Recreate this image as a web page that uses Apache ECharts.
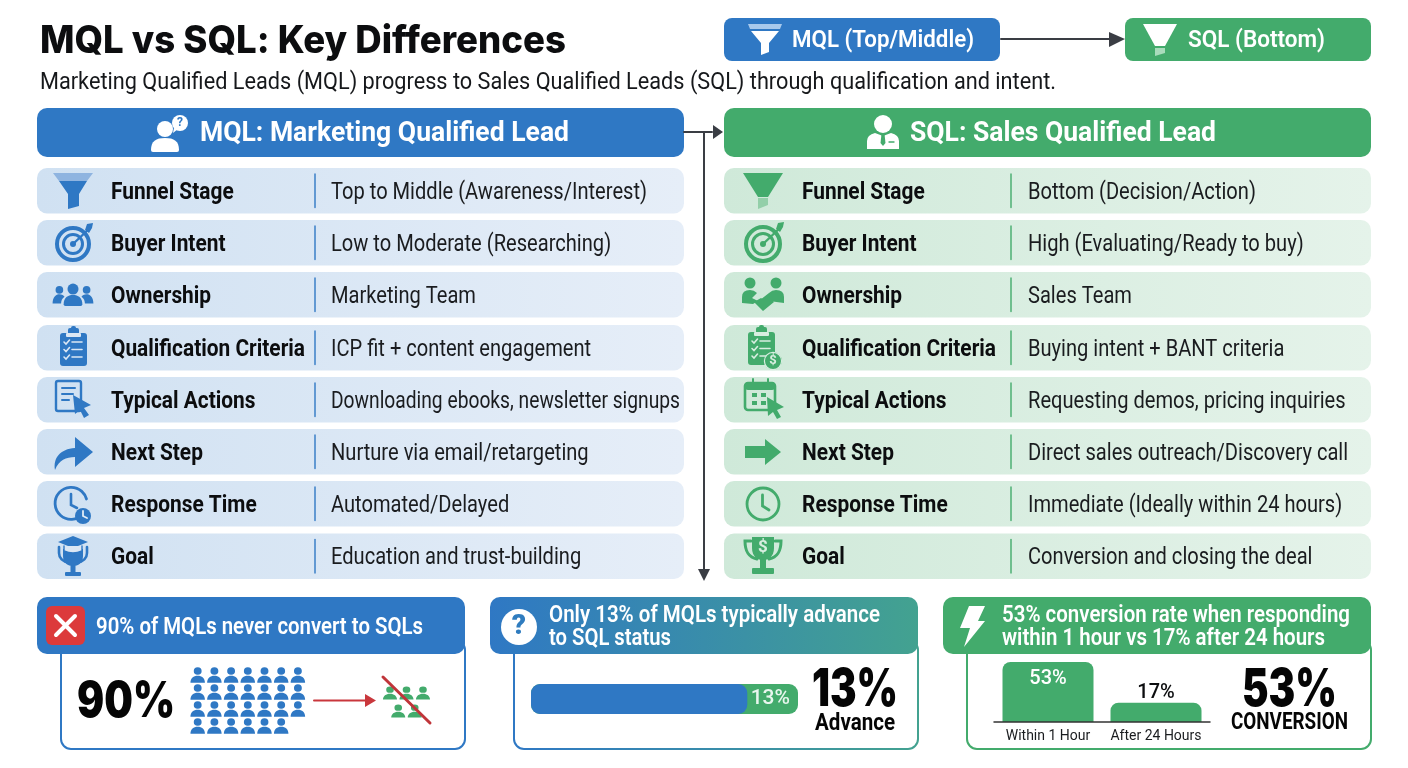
<!DOCTYPE html>
<html>
<head>
<meta charset="utf-8">
<style>html,body{margin:0;padding:0;background:#fff}#chartmain{width:1408px;height:768px}</style>
<script src="https://cdn.jsdelivr.net/npm/echarts@6/dist/echarts.min.js"></script>
</head>
<body>
<div id="chartmain"></div>
<script>
// data
var rowLabels = ['Funnel Stage', 'Buyer Intent', 'Ownership', 'Qualification Criteria', 'Typical Actions', 'Next Step', 'Response Time', 'Goal'];
var mqlValues = ['Top to Middle (Awareness/Interest)', 'Low to Moderate (Researching)', 'Marketing Team', 'ICP fit + content engagement', 'Downloading ebooks, newsletter signups', 'Nurture via email/retargeting', 'Automated/Delayed', 'Education and trust-building'];
var sqlValues = ['Bottom (Decision/Action)', 'High (Evaluating/Ready to buy)', 'Sales Team', 'Buying intent + BANT criteria', 'Requesting demos, pricing inquiries', 'Direct sales outreach/Discovery call', 'Immediate (Ideally within 24 hours)', 'Conversion and closing the deal'];
var peopleLostRows = [7, 7, 7, 6];
var peopleKeptRows = [3, 2];
var barBlueShare = [81];
var barTrack = [100];
var responseCats = ['Within 1 Hour', 'After 24 Hours'];
var responseVals = [53, 17];

var BLUE = '#2f78c4', GREEN = '#43ab6c', DARK = '#3a3d44', INK = '#0c0d0f';
var ROBOTO = 'Roboto', HEAVY = 'Inter';

var mctx = document.createElement('canvas').getContext('2d');
function measure(str, size, weight, fam) {
	mctx.font = weight + ' ' + size + 'px ' + fam;
	return mctx.measureText(str).width;
}
// text element, squeezed to a target width when w is given
function tx(x, y, str, size, weight, fill, w, fam, align) {
	fam = fam || ROBOTO;
	var sc = w ? w / measure(str, size, weight, fam) : 1;
	return {
		type: 'text', x: x, y: y + 2, scaleX: sc, z: 20,
		style: { text: str, fontSize: size, fontWeight: weight, fontFamily: fam, fill: fill,
			textAlign: align || 'left', align: align || 'left', textVerticalAlign: 'middle', verticalAlign: 'middle' }
	};
}
function rr(x, y, w, h, rad, fill, stroke, lw) {
	return { type: 'rect', z: 5, shape: { x: x, y: y, width: w, height: h, r: rad }, style: { fill: fill || 'transparent', stroke: stroke || null, lineWidth: lw || 0 } };
}
function dot(x, y, r, fill) { return { type: 'circle', z: 10, shape: { cx: x, cy: y, r: r }, style: { fill: fill } }; }
function ring(x, y, r, stroke, lw, fill) { return { type: 'circle', z: 10, shape: { cx: x, cy: y, r: r }, style: { fill: fill || 'transparent', stroke: stroke, lineWidth: lw } }; }
function poly(pts, fill) { return { type: 'polygon', z: 10, shape: { points: pts }, style: { fill: fill } }; }
function seg(x1, y1, x2, y2, stroke, lw) { return { type: 'line', z: 10, shape: { x1: x1, y1: y1, x2: x2, y2: y2 }, style: { stroke: stroke, lineWidth: lw, lineCap: 'round' } }; }
// the graphic component has no plain path type, so each svg path is registered as its own shape
var pathCount = 0;
function pth(d, fill, stroke, lw) {
	var name = 'iconPath' + (pathCount++);
	echarts.graphic.registerShape(name, echarts.graphic.extendPath(d, {}));
	return { type: name, z: 10, style: { fill: fill || 'transparent', stroke: stroke || null, lineWidth: lw || 0, lineCap: 'round' } };
}
function grp(x, y, kids, sc) { return { type: 'group', x: x, y: y, scaleX: sc || 1, scaleY: sc || 1, children: kids }; }
function grad(a, b) { return new echarts.graphic.LinearGradient(0, 0, 1, 0, [{ offset: 0, color: a }, { offset: 1, color: b }]); }
function glyph(x, y, str, size, fill) {
	return { type: 'text', x: x, y: y, z: 11, style: { text: str, fontSize: size, fontWeight: 700, fontFamily: ROBOTO, fill: fill, textAlign: 'center', align: 'center', textVerticalAlign: 'middle', verticalAlign: 'middle' } };
}

// icons, drawn around a local origin
function target(c, r) {
	return [ring(0, 1, r - 2, c, 4), ring(0, 1, r - 8.5, c, 3), dot(0, 1, 3, c),
		seg(0, 1, r - 1, -r + 3, c, 2.4), poly([[r - 6, -r + 5], [r - 4, -r - 1], [r + 2, -r - 2], [r + 1, -r + 3], [r - 2, -r + 8]], c)];
}
function clock(c, mini) {
	var k = [ring(0, 0, 16, c, 2.8), pth('M-0.5 -9 L-0.5 2 L6 6', null, c, 2.8)];
	if (mini) k = [pth('M11 11 A16 16 0 1 1 14.5 -4', null, c, 2.8), pth('M-1 -9 L-1 2 L5 5', null, c, 2.6), dot(11, 13, 8, c), pth('M11 8 L11 13 L15 15', null, '#e0ebf6', 1.8)];
	return k;
}
function clipboard(c, paper, money) {
	var k = [rr(-13, -15, 27, 33, 3, c), rr(-5, -20, 11, 7, 2, c), rr(-2, -22, 5, 4, 2, c), rr(-7, -15, 15, 4, 1, paper)];
	for (var i = 0; i < 3; i++) {
		k.push(pth('M-9 ' + (-6 + i * 7.5) + ' l2 2 l3.5 -4', null, paper, 1.6));
		k.push(seg(-1, -6 + i * 7.5, 9, -6 + i * 7.5, paper, 1.6));
	}
	if (money) k.push(dot(12, 14, 9, c), ring(12, 14, 8.6, paper, 1.2), glyph(12, 14, '$', 13, paper));
	return k;
}
var personD = 'M7 0a3.8 3.8 0 1 0 0 7.6a3.8 3.8 0 1 0 0-7.6z M0 15.5c0-4.4 3-7 7-7s7 2.6 7 7z';

var g = [];
// title block, the colon goes in its own rich token so Inter keeps it on the baseline
var titleEl = tx(40, 40, 'MQL vs SQL: Key Differences', 38, 800, INK, 526, HEAVY);
titleEl.style.text = '{a|MQL vs SQL}{a|:}{a| Key Differences}';
titleEl.style.rich = { a: { fontSize: 38, fontWeight: 800, fontFamily: HEAVY, fill: INK, color: INK } };
g.push(titleEl);
g.push(tx(40, 81, 'Marketing Qualified Leads (MQL) progress to Sales Qualified Leads (SQL) through qualification and intent.', 23, 400, '#16181b', 1016));

// funnel pills
g.push(rr(724, 18, 276, 43, 8, BLUE), rr(1125, 18, 246, 43, 8, GREEN));
g.push(grp(765, 40, [poly([[-17, -16], [17, -16], [15, -11], [-15, -11]], '#a8c9ec'), poly([[-14, -9], [14, -9], [4, 3], [4, 12], [-4, 15], [-4, 3]], '#fff')]));
g.push(grp(1160, 40, [poly([[-17, -16], [17, -16], [5, 6], [-5, 6]], '#fff'), poly([[-5, 8], [5, 8], [5, 13], [-5, 16]], '#a9dcbc')]));
g.push(tx(792, 39, 'MQL (Top/Middle)', 24, 600, '#fff', 182));
g.push(tx(1188, 39, 'SQL (Bottom)', 24, 600, '#fff', 137));
g.push(seg(1001, 39, 1112, 39, DARK, 2), poly([[1109, 32], [1125, 39], [1109, 47]], DARK));

// section headers
g.push(rr(37, 108, 647, 49, 10, BLUE), rr(724, 108, 647, 49, 10, GREEN));
g.push(tx(200, 132, 'MQL: Marketing Qualified Lead', 28, 700, '#fff', 369));
g.push(tx(910, 132, 'SQL: Sales Qualified Lead', 28, 700, '#fff', 306));
g.push(grp(165, 134, [dot(0, -5, 8, '#fff'), pth('M-14 16 c0 -9 5 -12 14 -12 s14 3 14 12 q0 2 -2 2 h-24 q-2 0 -2 -2z', '#fff'),
	dot(15, -11, 8, '#fff'), poly([[9, -6], [13, -5], [8, -1]], '#fff'), glyph(15, -11, '?', 12, BLUE)]));
g.push(grp(883, 132, [dot(0, -8, 9, '#fff'), pth('M-16 17 v-8 q0 -6 8 -8 l8 3 l8 -3 q8 2 8 8 v8z', '#fff'), poly([[-1.5, 2], [1.5, 2], [2.5, 11], [0, 14], [-2.5, 11]], GREEN), seg(6, 10, 11, 10, GREEN, 1.4)]));

// flow arrows between the columns
g.push(seg(684, 132, 712, 132, DARK, 2), poly([[713, 125], [723, 132], [713, 139]], DARK));
g.push(seg(704, 132, 704, 570, DARK, 2), poly([[698, 569], [710, 569], [704, 581]], DARK));

// rows
var rowTops = [168, 220, 272, 325, 377, 429, 481, 533.5];
var rowH = 45.5;
var labelScale = 194 / measure('Qualification Criteria', 23.5, 700, ROBOTO);
var valueScale = 316 / measure(mqlValues[0], 23, 400, ROBOTO);
var valueMaxW = 349;
function addRows(x0, vals, colA, colB, div, labelX, dividerX, valueX) {
	for (var i = 0; i < rowLabels.length; i++) {
		var t = rowTops[i], mid = t + rowH / 2;
		g.push({ type: 'rect', z: 3, shape: { x: x0, y: t, width: 647, height: rowH, r: 10 }, style: { fill: grad(colA, colB) } });
		g.push(seg(dividerX, t + 6, dividerX, t + rowH - 6, div, 1.4));
		var a = tx(labelX, mid, rowLabels[i], 23.5, 700, INK); a.scaleX = labelScale; g.push(a);
		var b = tx(valueX, mid, vals[i], 23, 400, '#1a1c1f');
		b.scaleX = Math.min(valueScale, valueMaxW / measure(vals[i], 23, 400, ROBOTO));
		g.push(b);
	}
}
addRows(37, mqlValues, '#d0e1f2', '#e6eef8', BLUE, 111, 315, 331);
addRows(724, sqlValues, '#cfe9d9', '#e5f3ea', GREEN, 802, 1011, 1028);

// blue row icons
var LIGHT = '#dbe7f4', LG = '#d8eee0';
g.push(grp(73, 191, [poly([[-20, -18], [20, -18], [14, -10], [-14, -10]], '#8fb4e0'), poly([[-14, -10], [14, -10], [6, 3], [6, 15], [-5, 18], [-5, 3]], BLUE)]));
g.push(grp(73, 243, target(BLUE, 18)));
g.push(grp(73, 295, [dot(-16, -6, 4.5, BLUE), dot(16, -6, 4.5, BLUE), pth('M-24 10 c0 -8 4 -11 8 -11 c3 0 5 1 6 3 c-3 2 -4 5 -4 8z', BLUE), pth('M24 10 c0 -8 -4 -11 -8 -11 c-3 0 -5 1 -6 3 c3 2 4 5 4 8z', BLUE),
	dot(0, -7, 6.5, BLUE), pth('M-11 11 c0 -8 5 -11 11 -11 s11 3 11 11 q0 2 -2 2 h-18 q-2 0 -2 -2z', BLUE)], 0.85));
g.push(grp(73, 348, clipboard(BLUE, LIGHT, false)));
g.push(grp(73, 399, [rr(-17, -18, 25, 30, 2, 'transparent', BLUE, 2.4), seg(-11, -11, 2, -11, BLUE, 2), seg(-11, -5, 0, -5, BLUE, 2), seg(-11, 1, -4, 1, BLUE, 2),
	poly([[0, -4], [18, 6], [11, 9], [16, 16], [11, 19], [7, 11], [2, 15]], BLUE)]));
g.push(grp(72, 452, [pth('M-17 18 c-2 -12 5 -21 20 -22 v-11 l18 15 l-18 15 v-10 c-9 0 -16 3 -20 13z', BLUE)]));
g.push(grp(72, 503, clock(BLUE, true)));
g.push(grp(73, 556, [pth('M-14 -9 v6 c0 5 4 9 9 9 M14 -9 v6 c0 5 -4 9 -9 9', null, BLUE, 2.6), pth('M-10 -7 h20 v7 c0 7 -5 10 -10 10 s-10 -3 -10 -10z', BLUE), rr(-2.5, 9, 5, 7, 0, BLUE), rr(-8, 16, 16, 4, 1, BLUE),
	poly([[0, -20], [15, -14], [0, -8], [-15, -14]], BLUE), pth('M-9 -10 v5 q9 4 18 0 v-5', '#dbe7f4', BLUE, 1.4)]));

// green row icons
g.push(grp(763, 191, [poly([[-20, -18], [20, -18], [5, 6], [-5, 6]], GREEN), poly([[-5, 7], [5, 7], [5, 14], [-5, 18]], '#93cfa9')]));
g.push(grp(763, 243, target(GREEN, 19)));
g.push(grp(763, 294, [dot(-13, -11, 5.5, GREEN), dot(13, -11, 5.5, GREEN), pth('M-21 9 v-6 q0 -7 8 -7 q4 0 7 3 l-5 5 l6 3 l-5 3z', GREEN), pth('M21 9 v-6 q0 -7 -8 -7 q-4 0 -7 3 l-9 7 l4 3 l5 -2z', GREEN), pth('M-9 8 l9 9 l11 -9 l-5 -5 l-5 3 l-3 -2z', GREEN)]));
g.push(grp(761, 347, clipboard(GREEN, LG, true)));
g.push(grp(764, 398, [rr(-19, -15, 30, 27, 3, 'transparent', GREEN, 2.6), rr(-19, -15, 30, 7, 3, GREEN), seg(-11, -19, -11, -13, GREEN, 2), seg(4, -19, 4, -13, GREEN, 2), rr(-12, -5, 5, 4, 0, GREEN), rr(-3, -5, 5, 4, 0, GREEN), rr(-12, 3, 5, 4, 0, GREEN), rr(-3, 3, 5, 4, 0, GREEN),
	poly([[3, -1], [20, 9], [13, 12], [17, 19], [13, 21], [9, 14], [4, 18]], GREEN)]));
g.push(grp(763, 452, [poly([[-18, -6], [2, -6], [2, -13], [18, 0], [2, 13], [2, 6], [-18, 6]], GREEN)]));
g.push(grp(763, 504, clock(GREEN, false)));
g.push(grp(763, 556, [pth('M-12 -15 h-6 c0 10 3 16 12 18 M12 -15 h6 c0 10 -3 16 -12 18', null, GREEN, 3), pth('M-11 -19 h22 v11 c0 9 -6 12 -11 12 s-11 -3 -11 -12z', GREEN), rr(-3, 3, 6, 9, 0, GREEN), rr(-11, 12, 22, 6, 1, GREEN), glyph(0, -8, '$', 17, LG)]));

// bottom cards
var HT = 597, HH = 57, BB = 749;
g.push(rr(61, 640, 404, BB - 640, 10, '#fff', BLUE, 2));
g.push(rr(514, 640, 404, BB - 640, 10, '#fff', grad('#2f78c4', '#43a290'), 2));
g.push(rr(967, 640, 404, BB - 640, 10, '#fff', GREEN, 2));
g.push(rr(37, HT, 428, HH, 10, BLUE));
g.push({ type: 'rect', z: 6, shape: { x: 490, y: HT, width: 428, height: HH, r: 10 }, style: { fill: grad('#2f78c4', '#43a290') } });
g.push(rr(943, HT, 428, HH, 10, GREEN));

g.push(rr(46, 606, 39, 39, 6, '#dc3a3b'));
g.push(seg(56, 616, 75, 635, '#fff', 4), seg(75, 616, 56, 635, '#fff', 4));
g.push(tx(96, 626, '90% of MQLs never convert to SQLs', 23, 600, '#fff', 327));
g.push(tx(77, 700, '90%', 49, 900, '#050505', 98, HEAVY));
g.push(seg(314, 700.5, 366, 700.5, '#c9373c', 2), poly([[365, 694], [376, 700.5], [365, 707]], '#c9373c'));
g.push(seg(383, 677, 430, 723, '#c0353a', 3));

g.push(dot(519, 627, 18, '#fff'));
g.push({ type: 'text', x: 519, y: 627, z: 11, style: { text: '?', fontSize: 28, fontWeight: 900, fontFamily: ROBOTO, fill: '#2f7cbf', textAlign: 'center', align: 'center', textVerticalAlign: 'middle', verticalAlign: 'middle' } });
g.push(tx(549, 614, 'Only 13% of MQLs typically advance', 23, 600, '#fff', 331));
g.push(tx(549, 637, 'to SQL status', 23, 600, '#fff', 122));
g.push(tx(812, 688, '13%', 52, 900, '#050505', 86, HEAVY));
g.push(tx(815, 722, 'Advance', 24, 700, '#050505', 80));

g.push(grp(972, 626, [poly([[-3, -20], [13, -20], [6, -5], [13, -5], [-8, 21], [-2, 2], [-12, 2]], '#fff')]));
g.push(tx(1002, 614, '53% conversion rate when responding', 23, 600, '#fff', 348));
g.push(tx(1002, 637, 'within 1 hour vs 17% after 24 hours', 23, 600, '#fff', 323));
g.push(tx(1242, 688, '53%', 52, 900, '#050505', 95, HEAVY));
g.push(tx(1231, 721, 'CONVERSION', 24, 700, '#050505', 117));

// people points
var lostPts = [], keptPts = [];
peopleLostRows.forEach(function (n, r) { for (var i = 0; i < n; i++) lostPts.push([i, r]); });
peopleKeptRows.forEach(function (n, r) { for (var i = 0; i < n; i++) keptPts.push([i + r / 2, r]); });

function hiddenAxis(idx, min, max, inverse) {
	return { type: 'value', gridIndex: idx, min: min, max: max, inverse: !!inverse, show: false, splitLine: { show: false } };
}
var option = {
	animation: false,
	backgroundColor: '#fff',
	textStyle: { fontFamily: ROBOTO },
	graphic: { elements: g },
	grid: [
		{ left: 197.7, top: 675, width: 100.2, height: 51 },
		{ left: 390, top: 693, width: 33, height: 18 },
		{ left: 531, top: 684, width: 267, height: 30 },
		{ left: 994, top: 662, width: 216, height: 60 }
	],
	xAxis: [
		hiddenAxis(0, 0, 6), hiddenAxis(1, 0, 2), hiddenAxis(2, 0, 100),
		{ type: 'category', gridIndex: 3, data: responseCats, z: 12, axisTick: { show: false },
			axisLine: { lineStyle: { color: '#333', width: 1.5 } },
			axisLabel: { interval: 0, hideOverlap: false, showMinLabel: true, showMaxLabel: true, color: '#1a1c1f', fontSize: 14, fontFamily: ROBOTO, margin: 7 } }
	],
	yAxis: [
		hiddenAxis(0, 0, 3, true), hiddenAxis(1, 0, 1, true),
		{ type: 'category', gridIndex: 2, data: ['share'], show: false },
		{ type: 'value', gridIndex: 3, min: 0, max: 53, show: false, splitLine: { show: false } }
	],
	series: [
		{ type: 'scatter', xAxisIndex: 0, yAxisIndex: 0, data: lostPts, symbol: 'path://' + personD, symbolSize: [14.5, 15.5], itemStyle: { color: BLUE, opacity: 1 }, silent: true, z: 8 },
		{ type: 'scatter', xAxisIndex: 1, yAxisIndex: 1, data: keptPts, symbol: 'path://' + personD, symbolSize: [14, 13], itemStyle: { color: GREEN, opacity: 1 }, silent: true, z: 8 },
		{ type: 'bar', xAxisIndex: 2, yAxisIndex: 2, data: barTrack, barWidth: 30, barGap: '-100%', itemStyle: { color: GREEN, borderRadius: 9 }, silent: true, z: 8,
			label: { show: true, position: 'insideRight', distance: 8, formatter: '13%', color: '#e8f6ee', fontSize: 21, fontFamily: ROBOTO, fontWeight: 500 } },
		{ type: 'bar', xAxisIndex: 2, yAxisIndex: 2, data: barBlueShare, barWidth: 30, itemStyle: { color: BLUE, borderRadius: 9 }, silent: true, z: 9 },
		{ type: 'bar', xAxisIndex: 3, yAxisIndex: 3, barWidth: 91, silent: true, z: 8,
			data: responseVals.map(function (v, i) {
				return { value: v, itemStyle: { color: GREEN, borderRadius: [8, 8, 0, 0] },
					label: { show: true, formatter: v + '%', position: i == 0 ? 'insideTop' : 'top', distance: i == 0 ? 7 : 0, color: i == 0 ? '#fff' : INK, fontSize: 20, fontWeight: 500, fontFamily: ROBOTO } };
			}) }
	]
};
// 初始化
var myChart = echarts.init(document.getElementById('chartmain'), null, { renderer: 'canvas' });
myChart.setOption(option);
</script>
</body>
</html>
